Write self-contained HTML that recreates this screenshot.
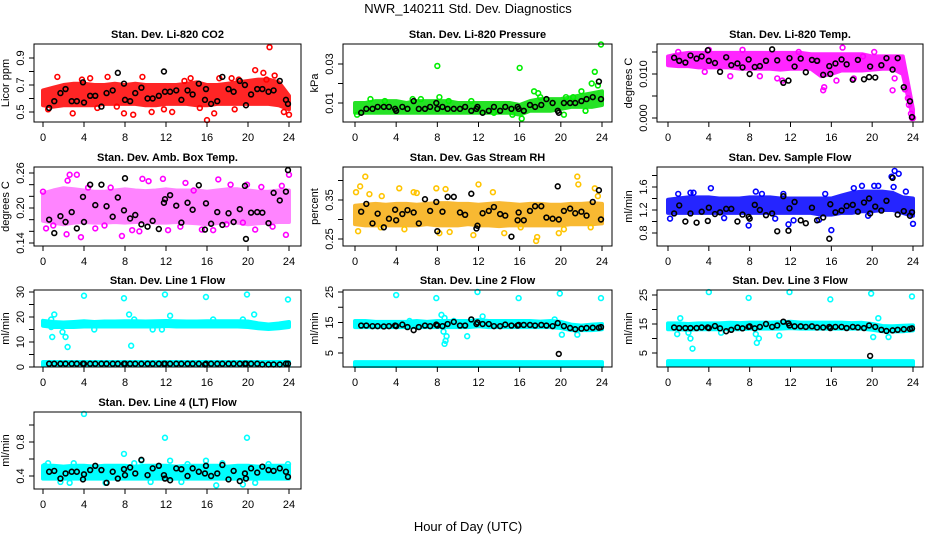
<!DOCTYPE html>
<html><head><meta charset="utf-8"><style>
html,body{margin:0;padding:0;background:#fff}
svg{display:block;font-family:"Liberation Sans",Arial,sans-serif}
</style></head><body>
<svg id="chart" width="936" height="540" viewBox="0 0 936 540">
<text x="468" y="13" text-anchor="middle" font-size="13">NWR_140211  Std. Dev. Diagnostics</text>
<text x="468" y="531" text-anchor="middle" font-size="13">Hour of Day (UTC)</text>
</svg>
<script>
// shared hours of black (reference) points
const blackHours=[0.6,1.1,1.7,2.2,2.8,3.3,3.9,4.0,4.6,5.1,5.7,6.2,6.8,7.3,7.9,8.0,8.5,9.0,9.6,10.2,10.7,11.3,11.8,11.9,12.4,13.0,13.5,14.1,14.6,15.2,15.8,15.9,16.4,17.0,17.5,18.1,18.6,19.2,19.7,19.8,20.3,20.9,21.4,22.0,22.5,23.1,23.7,23.9];
const bandHours=[0,1,2,3,4,5,6,7,8,9,10,11,12,13,14,15,16,17,18,19,20,21,22,23,24];
const xTicks=[0,4,8,12,16,20,24];

// P1 CO2
const p1Lo=[0.55,0.54,0.55,0.55,0.55,0.55,0.56,0.56,0.56,0.56,0.55,0.55,0.56,0.56,0.56,0.55,0.55,0.56,0.56,0.56,0.56,0.56,0.56,0.55,0.52];
const p1Hi=[0.66,0.68,0.70,0.71,0.71,0.70,0.70,0.71,0.70,0.71,0.70,0.70,0.70,0.70,0.71,0.72,0.70,0.70,0.71,0.72,0.73,0.74,0.74,0.72,0.62];
const p1Pts=[[22.1,0.98],[20.7,0.81],[21.5,0.79],[22.6,0.77],[19.1,0.74],[16.0,0.44],[8.8,0.48],[7.9,0.49],[16.7,0.49],[24.0,0.48],[2.9,0.49],[10.6,0.50],[12.6,0.50],[0.5,0.52],[1.4,0.76],[4.6,0.75],[6.3,0.76],[9.7,0.76],[14.4,0.75],[17.2,0.75],[18.4,0.75],[3.8,0.74],[11.8,0.52],[15.3,0.53],[18.7,0.52],[23.5,0.50],[21.8,0.74],[5.3,0.53],[7.2,0.54],[13.8,0.73]];
const p1Bk=[0.53,0.58,0.64,0.67,0.58,0.58,0.72,0.57,0.62,0.62,0.54,0.64,0.66,0.79,0.71,0.59,0.58,0.64,0.68,0.60,0.60,0.62,0.80,0.65,0.65,0.66,0.59,0.66,0.63,0.71,0.59,0.67,0.56,0.58,0.76,0.67,0.65,0.73,0.70,0.55,0.63,0.67,0.67,0.65,0.66,0.73,0.59,0.56];
// P2 Pressure
const p2Lo=[0.005,0.005,0.005,0.005,0.005,0.005,0.005,0.005,0.005,0.005,0.005,0.005,0.005,0.005,0.005,0.005,0.004,0.006,0.006,0.006,0.007,0.008,0.008,0.008,0.009];
const p2Hi=[0.010,0.010,0.011,0.011,0.011,0.010,0.011,0.011,0.011,0.011,0.010,0.010,0.010,0.010,0.010,0.010,0.009,0.011,0.012,0.012,0.012,0.013,0.014,0.015,0.016];
const p2Pts=[[8.0,0.029],[16.0,0.028],[23.9,0.040],[23.3,0.026],[23.0,0.020],[23.6,0.019],[17.4,0.016],[17.8,0.015],[8.2,0.013],[1.5,0.012],[6.4,0.012],[16.2,0.002],[20.3,0.004],[22.0,0.016],[0.2,0.004],[11.3,0.011],[18.0,0.013],[20.5,0.013],[21.2,0.013],[22.4,0.006],[15.3,0.004],[2.9,0.011],[5.6,0.012],[9.1,0.011],[12.0,0.007],[13.5,0.005]];
const p2Bk=[0.005,0.007,0.007,0.008,0.008,0.008,0.007,0.006,0.008,0.007,0.011,0.007,0.007,0.008,0.010,0.007,0.008,0.007,0.007,0.007,0.008,0.006,0.007,0.008,0.005,0.006,0.008,0.006,0.008,0.007,0.008,0.007,0.006,0.009,0.008,0.009,0.012,0.010,0.006,0.005,0.010,0.010,0.010,0.011,0.012,0.013,0.021,0.012];
// P3 Li-820 Temp
const p3Lo=[0.0120,0.0118,0.0118,0.0115,0.0115,0.0115,0.0115,0.0112,0.0112,0.0112,0.0112,0.0110,0.0112,0.0112,0.0112,0.0095,0.0100,0.0108,0.0108,0.0108,0.0110,0.0112,0.0112,0.0100,0.0000];
const p3Hi=[0.0140,0.0145,0.0148,0.0148,0.0148,0.0148,0.0148,0.0148,0.0148,0.0148,0.0148,0.0148,0.0148,0.0148,0.0145,0.0145,0.0145,0.0145,0.0145,0.0145,0.0140,0.0140,0.0140,0.0140,0.0020];
const p3Pts=[[23.5,0.0045],[23.6,0.003],[23.8,0.001],[23.9,0.000],[24.0,0.000],[23.2,0.0065],[22.0,0.0063],[15.2,0.0063],[15.3,0.0070],[11.2,0.0085],[4.0,0.0155],[7.3,0.0155],[17.1,0.016],[1.0,0.0150],[12.8,0.0150],[3.6,0.0105],[9.0,0.0095],[14.7,0.0130],[20.2,0.0150],[19.1,0.0140],[18.2,0.0090],[22.2,0.0090],[6.1,0.0095],[10.7,0.0090],[16.5,0.0085]];
const p3Bk=[0.0137,0.0130,0.0126,0.0142,0.0135,0.0140,0.0154,0.0130,0.0125,0.0105,0.0138,0.0120,0.0124,0.0115,0.0133,0.0100,0.0116,0.0118,0.0130,0.0156,0.0131,0.0080,0.0085,0.0136,0.0117,0.0135,0.0104,0.0132,0.0130,0.0098,0.0118,0.0100,0.0124,0.0133,0.0122,0.0087,0.0132,0.0088,0.0093,0.0117,0.0092,0.0120,0.0136,0.0110,0.0136,0.0070,0.0038,0.0002];
// P4 Amb box temp
const p4Lo=[0.178,0.175,0.172,0.175,0.176,0.175,0.175,0.176,0.175,0.176,0.176,0.175,0.175,0.176,0.175,0.174,0.172,0.174,0.176,0.175,0.172,0.174,0.175,0.176,0.176];
const p4Hi=[0.225,0.230,0.234,0.232,0.230,0.228,0.228,0.230,0.232,0.230,0.229,0.230,0.232,0.230,0.230,0.230,0.228,0.230,0.232,0.232,0.230,0.228,0.228,0.230,0.230];
const p4Pts=[[2.6,0.257],[3.3,0.257],[2.4,0.247],[9.7,0.250],[11.7,0.250],[17.1,0.249],[13.9,0.243],[0.0,0.228],[3.7,0.150],[7.7,0.152],[2.3,0.155],[15.5,0.163],[20.7,0.163],[23.7,0.154],[24.0,0.257],[19.9,0.240],[16.6,0.162],[12.2,0.162],[5.1,0.165],[1.0,0.170],[8.7,0.162],[0.3,0.165],[21.3,0.236],[23.3,0.238],[18.3,0.240],[6.6,0.235],[10.3,0.246],[14.7,0.230],[4.4,0.235],[9.4,0.160],[22.4,0.168],[19.5,0.175],[13.4,0.168],[17.9,0.172],[6.0,0.170]];
const p4Bk=[0.180,0.157,0.186,0.176,0.193,0.165,0.219,0.176,0.240,0.205,0.240,0.203,0.185,0.218,0.196,0.251,0.182,0.188,0.172,0.168,0.178,0.164,0.209,0.215,0.222,0.204,0.175,0.209,0.197,0.239,0.163,0.208,0.173,0.193,0.171,0.191,0.176,0.198,0.238,0.147,0.192,0.193,0.192,0.174,0.226,0.213,0.228,0.265];
// P5 Gas stream RH
const p5Lo=[0.288,0.285,0.285,0.285,0.285,0.285,0.285,0.288,0.285,0.285,0.285,0.288,0.285,0.285,0.283,0.285,0.285,0.285,0.285,0.285,0.285,0.288,0.288,0.288,0.290];
const p5Hi=[0.335,0.338,0.340,0.338,0.340,0.340,0.338,0.340,0.342,0.342,0.340,0.340,0.338,0.340,0.342,0.340,0.338,0.340,0.340,0.338,0.338,0.340,0.340,0.342,0.340];
const p5Pts=[[1.0,0.410],[0.5,0.385],[0.1,0.370],[1.4,0.365],[2.6,0.360],[4.3,0.380],[5.7,0.370],[6.0,0.368],[12.0,0.390],[13.4,0.370],[21.6,0.410],[21.7,0.390],[23.3,0.380],[23.6,0.360],[0.3,0.270],[2.5,0.280],[4.8,0.275],[8.2,0.265],[9.2,0.268],[11.5,0.260],[14.5,0.265],[17.6,0.245],[17.7,0.255],[19.8,0.265],[20.3,0.275],[22.9,0.280],[16.1,0.280],[7.9,0.380],[8.8,0.378]];
const p5Bk=[0.320,0.340,0.290,0.315,0.280,0.302,0.325,0.298,0.314,0.324,0.318,0.290,0.352,0.322,0.345,0.270,0.320,0.358,0.358,0.318,0.312,0.366,0.277,0.284,0.316,0.322,0.332,0.314,0.310,0.256,0.298,0.318,0.298,0.322,0.334,0.334,0.305,0.302,0.385,0.300,0.322,0.328,0.316,0.320,0.310,0.345,0.375,0.300];
// P6 Sample flow
const p6Lo=[1.15,1.15,1.15,1.15,1.15,1.15,1.15,1.15,1.15,1.15,1.15,1.15,1.15,1.15,1.15,1.12,1.12,1.15,1.15,1.18,1.18,1.20,1.20,1.15,1.10];
const p6Hi=[1.38,1.40,1.42,1.42,1.42,1.40,1.40,1.40,1.42,1.42,1.42,1.40,1.40,1.40,1.40,1.40,1.40,1.45,1.50,1.52,1.52,1.52,1.50,1.42,1.40];
const p6Pts=[[22.2,1.88],[22.6,1.83],[21.9,1.78],[22.1,1.60],[20.2,1.62],[20.6,1.62],[19.0,1.62],[18.2,1.58],[23.3,1.52],[4.2,1.58],[8.6,1.52],[1.0,1.48],[2.2,1.50],[0.2,1.05],[7.9,0.93],[16.0,0.85],[24.0,0.96],[11.8,0.95],[12.3,1.02],[5.5,1.06],[10.5,1.05],[14.8,1.03],[2.5,1.50],[9.2,1.48],[15.4,1.48],[11.3,1.48],[19.6,1.10]];
const p6Bk=[1.14,1.28,1.00,1.14,0.98,1.17,1.01,1.24,1.13,1.16,1.22,1.22,1.00,1.12,1.08,1.05,1.29,1.20,1.11,1.14,0.83,1.44,0.84,1.23,1.34,1.02,0.97,1.24,1.02,1.07,0.70,1.30,1.16,1.19,1.27,1.29,1.17,1.33,1.40,1.14,1.26,1.19,1.36,1.76,1.12,1.18,1.10,1.16];
// P7 Line 1
const p7Lo=[16.5,16.0,16.0,16.0,16.2,16.2,16.2,16.2,16.2,16.2,16.2,16.2,16.4,16.2,16.2,16.2,16.2,16.2,16.2,16.2,16.0,15.5,15.2,15.5,16.0];
const p7Hi=[18.5,18.0,17.8,18.0,18.3,18.0,18.2,18.2,18.3,18.3,18.2,18.3,18.4,18.3,18.2,18.2,18.3,18.3,18.3,18.3,18.2,17.5,17.0,17.4,18.0];
const p7Lo2=[0.6,0.6,0.6,0.6,0.6,0.6,0.6,0.6,0.6,0.6,0.6,0.6,0.6,0.6,0.6,0.6,0.6,0.6,0.6,0.6,0.6,0.6,0.6,0.6,0.6];
const p7Hi2=[2.0,2.0,2.0,2.0,2.0,2.0,2.0,2.0,2.0,2.0,2.0,2.0,2.0,2.0,2.0,2.0,2.0,2.0,2.0,2.0,2.0,2.0,2.0,2.0,2.0];
const p7Pts=[[4.0,28.5],[7.9,27.5],[11.9,29],[15.9,28],[19.9,29],[23.9,27],[1.1,21],[8.4,21],[12.4,20.5],[20.6,21],[0.9,12],[2.2,12],[2.4,8],[8.6,8.5],[1.9,14],[5.0,15],[10.7,15],[11.6,15],[0.8,16],[16.6,19],[19.5,19],[8.9,19],[0.8,19]];
const p7Bk=[1.3,1.3,1.3,1.3,1.3,1.3,1.3,1.3,1.3,1.3,1.3,1.3,1.3,1.3,1.3,1.3,1.3,1.3,1.3,1.3,1.3,1.3,1.3,1.3,1.3,1.3,1.3,1.3,1.3,1.3,1.0,1.3,1.3,1.3,1.3,1.3,1.3,1.3,1.3,1.3,1.3,1.3,1.0,1.0,1.0,1.0,1.3,1.3];
// P8 Line 2
const p8Lo=[13.5,13.5,13.5,13.5,13.5,13.5,13.5,13.5,13.5,13.5,13.5,13.5,13.8,13.5,13.5,13.5,13.5,13.5,13.5,13.5,13.2,12.5,12.5,12.5,12.8];
const p8Hi=[15.5,15.5,15.2,15.2,15.2,15.2,15.5,15.2,15.5,15.5,15.5,15.5,15.8,15.5,15.5,15.5,15.5,15.5,15.3,15.5,15.2,14.3,14.0,14.3,14.5];
const p8Lo2=[0.6,0.6,0.6,0.6,0.6,0.6,0.6,0.6,0.6,0.6,0.6,0.6,0.6,0.6,0.6,0.6,0.6,0.6,0.6,0.6,0.6,0.6,0.6,0.6,0.6];
const p8Hi2=[2.0,2.0,2.0,2.0,2.0,2.0,2.0,2.0,2.0,2.0,2.0,2.0,2.0,2.0,2.0,2.0,2.0,2.0,2.0,2.0,2.0,2.0,2.0,2.0,2.0];
const p8Pts=[[4.0,24],[7.9,23],[11.9,25],[15.9,23],[19.9,24.5],[23.9,23],[8.4,17.5],[8.6,12],[8.7,8],[8.8,9],[8.9,10.5],[10.9,10.5],[12.4,17],[20.1,11],[21.6,11],[5.3,15.5],[9.6,15.5],[8.7,16.5],[19.4,16]];
const p8Bk=[14,14,13.8,13.8,13.7,13.8,14,13.8,14.3,13.5,12.5,13.5,14,13.8,14.3,14,13.8,14.5,15.2,14,14,16,14.5,15,14.5,14.5,13.8,13.8,14.3,14.0,14,14.2,14.2,14.2,14,14.2,14,13.8,14.8,4.7,13.8,13.2,12.8,13,13.2,13.3,13.3,13.5];
// P9 Line 3
const p9Lo=[13.2,13.2,13.0,13.2,13.2,13.2,13.2,13.2,13.4,13.4,13.4,13.4,13.6,13.4,13.4,13.4,13.4,13.4,13.4,13.4,13.0,12.5,12.4,12.5,12.8];
const p9Hi=[15.2,15.2,15.0,15.2,15.2,15.2,15.4,15.3,15.5,15.5,15.5,15.6,15.8,15.5,15.5,15.5,15.5,15.5,15.3,15.4,15.0,14.3,14.2,14.4,14.5];
const p9Lo2=[0.8,0.8,0.8,0.8,0.8,0.8,0.8,0.8,0.8,0.8,0.8,0.8,0.8,0.8,0.8,0.8,0.8,0.8,0.8,0.8,0.8,0.8,0.8,0.8,0.8];
const p9Hi2=[2.2,2.2,2.2,2.2,2.2,2.2,2.2,2.2,2.2,2.2,2.2,2.2,2.2,2.2,2.2,2.2,2.2,2.2,2.2,2.2,2.2,2.2,2.2,2.2,2.2];
const p9Pts=[[4.0,26],[7.9,24],[11.9,26],[15.9,23.5],[19.9,25.5],[23.9,24.5],[1.2,17],[0.9,11.5],[2.0,12],[2.2,10],[2.4,6.5],[8.6,11.5],[8.7,8.5],[8.9,10],[10.9,11],[20.1,10.5],[20.6,17],[21.6,10.5],[5.2,12]];
const p9Bk=[13.8,13.6,13.6,13.6,13.6,13.8,13.8,13.6,14.3,13.5,12.5,13.0,13.8,13.5,14.0,14.2,13.5,14.0,15.0,14.0,14.5,15.8,15.2,14.5,14.2,14.2,14.0,14.2,13.8,13.8,14.0,13.6,14.0,14.0,13.6,14.0,13.8,13.6,14.5,4.0,14.0,13.0,12.6,12.8,13.0,13.2,13.3,13.5];
// P10 Line 4
const p10Lo=[0.37,0.37,0.37,0.37,0.37,0.37,0.37,0.37,0.37,0.37,0.37,0.37,0.37,0.37,0.37,0.37,0.37,0.37,0.37,0.37,0.37,0.37,0.37,0.37,0.37];
const p10Hi=[0.52,0.52,0.51,0.52,0.52,0.51,0.52,0.52,0.52,0.51,0.52,0.52,0.52,0.51,0.52,0.52,0.52,0.52,0.51,0.52,0.52,0.51,0.52,0.52,0.52];
const p10Pts=[[4.0,1.13],[11.9,0.85],[19.9,0.85],[7.9,0.66],[9.6,0.58],[12.4,0.58],[15.9,0.58],[1.7,0.33],[2.6,0.32],[6.1,0.32],[13.5,0.33],[16.9,0.29],[19.5,0.30],[20.7,0.32],[0.2,0.52],[0.5,0.55],[23.9,0.54],[3.0,0.55],[8.9,0.55],[14.1,0.54],[17.5,0.55],[22.0,0.54],[10.5,0.33]];
const p10Bk=[0.45,0.46,0.37,0.43,0.45,0.45,0.36,0.42,0.47,0.52,0.47,0.32,0.45,0.37,0.48,0.41,0.50,0.43,0.59,0.41,0.49,0.52,0.41,0.37,0.35,0.49,0.48,0.40,0.49,0.45,0.43,0.52,0.40,0.43,0.53,0.36,0.46,0.34,0.43,0.37,0.49,0.44,0.51,0.47,0.46,0.49,0.45,0.39];

const cols=[{bx:[34,301],xp:[43,289]},{bx:[343,612],xp:[355,602]},{bx:[657,923],xp:[668,913]}];
const rows=[[44,122],[167,246],[290,367],[412,489]];
const panels=[
 {id:'co2',t:'Stan. Dev. Li-820 CO2',yl:'Licor ppm',c:0,r:0,cal:[0.9,58,0.5,112],yt:[0.5,0.6,0.7,0.8,0.9],ylb:['0.5','0.7','0.9'],ylv:[0.5,0.7,0.9],col:'#ff0000',band:'#ff0000',op:0.85,bands:[[p1Lo,p1Hi]],pts:p1Pts,bk:p1Bk},
 {id:'pressure',t:'Stan. Dev. Li-820 Pressure',yl:'kPa',c:1,r:0,cal:[0.03,64,0.01,103],yt:[0.01,0.02,0.03],ylb:['0.01','0.03'],ylv:[0.01,0.03],col:'#00ee00',band:'#00dd00',op:0.85,bands:[[p2Lo,p2Hi]],pts:p2Pts,bk:p2Bk},
 {id:'li820-temp',t:'Stan. Dev. Li-820 Temp.',yl:'degrees C',c:2,r:0,cal:[0.01,74,0,118],yt:[0,0.005,0.01,0.015],ylb:['0.000','0.010'],ylv:[0,0.01],col:'#ff00ff',band:'#ff00ff',op:0.85,bands:[[p3Lo,p3Hi]],pts:p3Pts,bk:p3Bk},
 {id:'amb-box-temp',t:'Stan. Dev. Amb. Box Temp.',yl:'degrees C',c:0,r:1,cal:[0.26,173,0.14,243],yt:[0.14,0.16,0.18,0.2,0.22,0.24,0.26],ylb:['0.14','0.20','0.26'],ylv:[0.14,0.2,0.26],col:'#ff00ff',band:'#ff33ff',op:0.6,bands:[[p4Lo,p4Hi]],pts:p4Pts,bk:p4Bk},
 {id:'gas-rh',t:'Stan. Dev. Gas Stream RH',yl:'percent',c:1,r:1,cal:[0.35,200,0.25,239],yt:[0.25,0.3,0.35,0.4],ylb:['0.25','0.35'],ylv:[0.25,0.35],col:'#ffc400',band:'#f7a800',op:0.8,bands:[[p5Lo,p5Hi]],pts:p5Pts,bk:p5Bk},
 {id:'sample-flow',t:'Stan. Dev. Sample Flow',yl:'ml/min',c:2,r:1,cal:[1.6,187,0.8,233],yt:[0.8,1.0,1.2,1.4,1.6,1.8],ylb:['0.8','1.2','1.6'],ylv:[0.8,1.2,1.6],col:'#0000ff',band:'#0000ff',op:0.85,bands:[[p6Lo,p6Hi]],pts:p6Pts,bk:p6Bk},
 {id:'line1',t:'Stan. Dev. Line 1 Flow',yl:'ml/min',c:0,r:2,cal:[30,292,0,367],yt:[0,5,10,15,20,25,30],ylb:['0','10','20','30'],ylv:[0,10,20,30],col:'#00ffff',band:'#00ffff',op:1,bands:[[p7Lo,p7Hi],[p7Lo2,p7Hi2]],pts:p7Pts,bk:p7Bk},
 {id:'line2',t:'Stan. Dev. Line 2 Flow',yl:'ml/min',c:1,r:2,cal:[25,292,5,353],yt:[5,10,15,20,25],ylb:['5','15','25'],ylv:[5,15,25],col:'#00ffff',band:'#00ffff',op:1,bands:[[p8Lo,p8Hi],[p8Lo2,p8Hi2]],pts:p8Pts,bk:p8Bk},
 {id:'line3',t:'Stan. Dev. Line 3 Flow',yl:'ml/min',c:2,r:2,cal:[25,295,5,353],yt:[5,10,15,20,25],ylb:['5','15','25'],ylv:[5,15,25],col:'#00ffff',band:'#00ffff',op:1,bands:[[p9Lo,p9Hi],[p9Lo2,p9Hi2]],pts:p9Pts,bk:p9Bk},
 {id:'line4',t:'Stan. Dev. Line 4 (LT) Flow',yl:'ml/min',c:0,r:3,cal:[0.8,442,0.4,476],yt:[0.4,0.6,0.8,1.0],ylb:['0.4','0.8'],ylv:[0.4,0.8],col:'#00ffff',band:'#00ffff',op:1,bands:[[p10Lo,p10Hi]],pts:p10Pts,bk:p10Bk}
];
const NS='http://www.w3.org/2000/svg';
const svg=document.getElementById('chart');
function mk(tag,attrs,parent){const e=document.createElementNS(NS,tag);for(const k in attrs)e.setAttribute(k,attrs[k]);parent.appendChild(e);return e;}
panels.forEach(p=>{
 const col=cols[p.c],row=rows[p.r];
 const x0=col.bx[0],x1=col.bx[1],y0=row[0],y1=row[1];
 const xs=h=>col.xp[0]+(col.xp[1]-col.xp[0])*h/24;
 const ys=v=>p.cal[1]+(v-p.cal[0])*(p.cal[3]-p.cal[1])/(p.cal[2]-p.cal[0]);
 const g=mk('g',{},svg);
 
 
 const cx=(x0+x1)/2;
 const tt=mk('text',{x:cx,y:y0-6,'text-anchor':'middle','font-size':'11','font-weight':'bold'},g);tt.textContent=p.t;
 
 
 const clip=mk('clipPath',{id:'cl-'+p.id},g);mk('rect',{x:x0,y:y0-3,width:x1-x0+3,height:y1-y0+4},clip);
 const pg=mk('g',{'clip-path':'url(#cl-'+p.id+')'},g);
 p.bands.forEach(b=>{
  let d='';
  bandHours.forEach((h,i)=>{d+=(i?'L':'M')+xs(h).toFixed(1)+','+ys(b[1][i]).toFixed(1);});
  for(let i=bandHours.length-1;i>=0;i--)d+='L'+xs(bandHours[i]).toFixed(1)+','+ys(b[0][i]).toFixed(1);
  const pa=mk('path',{d:d+'Z',fill:p.band,stroke:p.band,'stroke-width':'4','stroke-linejoin':'round',opacity:p.op},pg);
  
  
 });
 p.pts.forEach(pt=>{
  const c=mk('circle',{cx:xs(pt[0]),cy:ys(pt[1]),r:2.4,fill:'none',stroke:p.col,'stroke-width':1.6},pg);
  
  
 });
 p.bk.forEach((v,i)=>{
  const c=mk('circle',{cx:xs(blackHours[i]),cy:ys(v),r:2.4,fill:'none',stroke:'#000','stroke-width':1.6},pg);
  
  
 });
 const box=mk('rect',{x:x0,y:y0,width:x1-x0,height:y1-y0,fill:'none',stroke:'#000','stroke-width':1},g);
 
 
 xTicks.forEach(h=>{
  mk('line',{x1:xs(h),x2:xs(h),y1:y1,y2:y1+5,stroke:'#000'},g);
  const t=mk('text',{x:xs(h),y:y1+19,'text-anchor':'middle','font-size':'11'},g);t.textContent=h;
  
  
 });
 p.yt.forEach(v=>{mk('line',{x1:x0-5,x2:x0,y1:ys(v),y2:ys(v),stroke:'#000'},g);});
 p.ylv.forEach((v,i)=>{
  const lx=x0-10,ly=ys(v);
  const t=mk('text',{x:lx,y:ly,'text-anchor':'middle','font-size':'11',transform:'rotate(-90 '+lx+' '+ly+')'},g);t.textContent=p.ylb[i];
  
  
 });
 const ax=x0-25,ay=(y0+y1)/2;
 const yt=mk('text',{x:ax,y:ay,'text-anchor':'middle','font-size':'11',transform:'rotate(-90 '+ax+' '+ay+')'},g);yt.textContent=p.yl;
 
 
});
</script>
</body></html>
